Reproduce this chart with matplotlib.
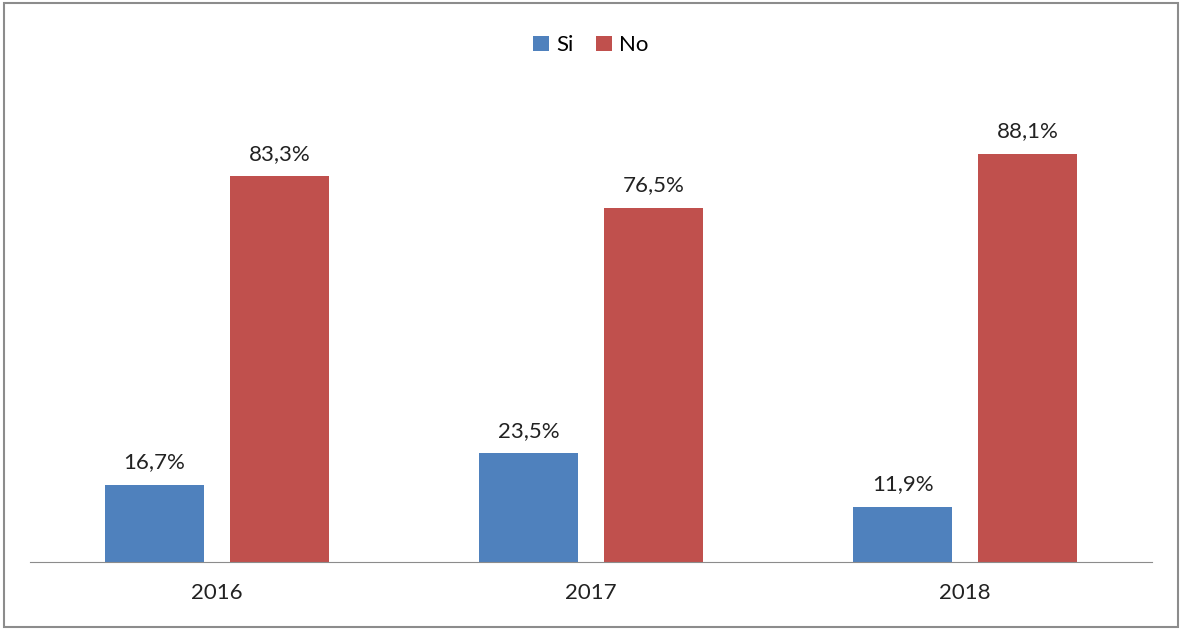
import matplotlib
matplotlib.use("Agg")
import matplotlib.pyplot as plt
from matplotlib.patches import Rectangle
import numpy as np

### ---Data
years = ['2016', '2017', '2018']
si = [16.7, 23.5, 11.9]
no = [83.3, 76.5, 88.1]
series_names = ['Si', 'No']

plt.rcParams['font.family'] = ['Lato', 'DejaVu Sans']

fig = plt.figure(figsize=(11.82, 6.30), dpi=100)
ax = fig.add_axes([0.0254, 0.1079, 0.9492, 0.735])

x = np.arange(len(years))
w = 0.267
off = 0.167
b1 = ax.bar(x - off, si, w, color='#4F81BD', label=series_names[0])
b2 = ax.bar(x + off, no, w, color='#C0504D', label=series_names[1])

for bars, vals in [(b1, si), (b2, no)]:
	for r, v in zip(bars, vals):
		ax.annotate(f"{v:.1f}%".replace('.', ','),
			(r.get_x() + r.get_width() / 2, r.get_height()),
			xytext=(0, 9), textcoords='offset points',
			ha='center', va='bottom', fontsize=16, color='#222222')

ax.set_xlim(-0.5, 2.5)
ax.set_ylim(0, 100)
ax.set_xticks(x)
ax.set_xticklabels(years, fontsize=16, color='#222222')
ax.tick_params(axis='x', length=0, pad=15)
ax.set_yticks([])
for s in ['top', 'right', 'left']:
	ax.spines[s].set_visible(False)
ax.spines['bottom'].set_color('#8c8c8c')

fig.legend(loc='center', bbox_to_anchor=(0.5, 0.928), ncol=2, frameon=False,
	fontsize=16, handlelength=0.7, handleheight=0.7, handletextpad=0.35,
	columnspacing=1.0)

fig.patches.append(Rectangle((0.003, 0.004), 0.994, 0.992, transform=fig.transFigure,
	fill=False, edgecolor='#8c8c8c', linewidth=1.5))

plt.savefig('out.png', dpi=100)
